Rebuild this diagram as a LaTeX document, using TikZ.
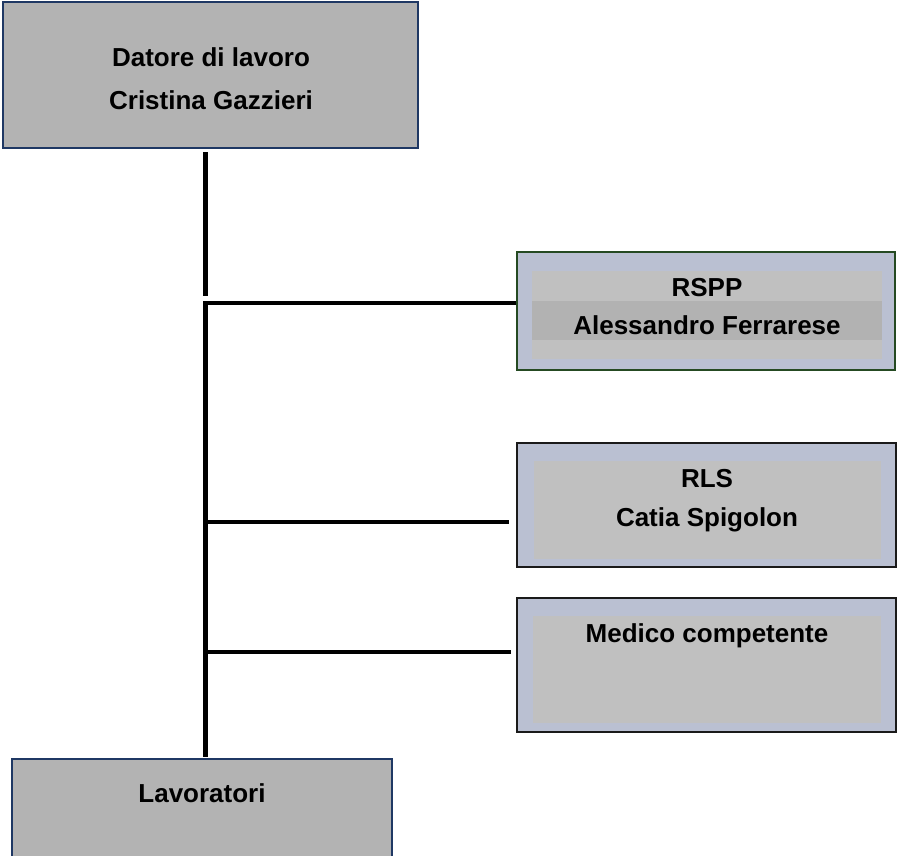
\documentclass[tikz,border=0pt]{standalone}
\usepackage{fontspec}
\setmainfont{Liberation Sans}
\definecolor{navy}{HTML}{1F3864}
\definecolor{dgreen}{HTML}{254A22}
\definecolor{dborder}{HTML}{1A1A1A}
\definecolor{outerfill}{HTML}{BAC0D2}
\definecolor{innerfill}{HTML}{C0C0C0}
\definecolor{bandfill}{HTML}{B2B2B2}
\definecolor{boxgray}{HTML}{B3B3B3}
\begin{document}
\begin{tikzpicture}[x=1pt,y=-1pt,
  graybox/.style={draw=navy,line width=2.5pt,fill=boxgray,inner sep=0pt,rectangle},
  bluebox/.style={draw=dborder,line width=2pt,fill=outerfill,inner sep=0pt,rectangle},
  txt/.style={font=\fontsize{26}{30}\selectfont\bfseries,inner sep=0pt,anchor=base},
  conn/.style={line width=4.5pt,black}]
\useasboundingbox (0,0) rectangle (897,855);
% boxes
\node[graybox,minimum width=415pt,minimum height=146pt] (datore) at (210.5,75) {};
\node[graybox,minimum width=380pt,minimum height=110pt] (lav) at (202,814) {};
\node[bluebox,draw=dgreen,minimum width=378pt,minimum height=118pt] (rspp) at (706,311) {};
\node[bluebox,minimum width=379pt,minimum height=124pt] (rls) at (706.5,505) {};
\node[bluebox,minimum width=379pt,minimum height=134pt] (med) at (706.5,665) {};
% inner panels
\fill[innerfill] ([shift={(16,20)}]rspp.north west) rectangle ([shift={(-14,-12)}]rspp.south east);
\fill[bandfill] ([shift={(16,50)}]rspp.north west) rectangle ([shift={(-14,-31)}]rspp.south east);
\fill[innerfill] ([shift={(18,19)}]rls.north west) rectangle ([shift={(-16,-9)}]rls.south east);
\fill[innerfill] ([shift={(17,19)}]med.north west) rectangle ([shift={(-16,-10)}]med.south east);
% texts
\node[txt] (datoreA) at (211,66) {Datore di lavoro};
\node[txt] (datoreB) at (211,109) {Cristina Gazzieri};
\node[txt] (rsppA) at (707,296) {RSPP};
\node[txt] (rsppB) at (707,334) {Alessandro Ferrarese};
\node[txt] (rlsA) at (707,487) {RLS};
\node[txt] (rlsB) at (707,526) {Catia Spigolon};
\node[txt] (medA) at (707,642) {Medico competente};
\node[txt] (lavA) at (202,802) {Lavoratori};
% connectors
\coordinate (t1) at (205.5,152);
\coordinate (t2) at (205.5,296);
\coordinate (j1) at (205.5,303);
\coordinate (b1) at (205.5,757);
\coordinate (j2) at (203,522);
\coordinate (j3) at (205.5,652);
\draw[conn] (t1) -- (t2);
\draw[conn,line join=miter] (j1 -| rspp.west) -- (j1) -- (b1);
\draw[conn,shorten >=7pt] (j2) -- (j2 -| rls.west);
\draw[conn,shorten >=5pt] (j3) -- (j3 -| med.west);
\end{tikzpicture}
\end{document}
